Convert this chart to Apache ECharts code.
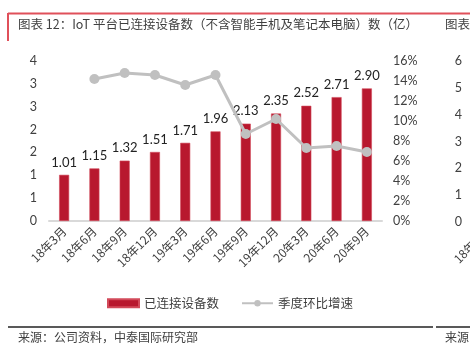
<!DOCTYPE html>
<html lang="zh">
<head>
    <meta charset="UTF-8">
    <title>IoT 平台已连接设备数</title>
    <script type="text/javascript" src="https://cdn.jsdelivr.net/npm/echarts@6/dist/echarts.min.js"></script>
    <style>
        html, body { margin: 0; padding: 0; background: #fff; }
        #chart { width: 470px; height: 354px; }
    </style>
</head>
<body>
<div id="chart"></div>
<script>
    // 数据
    var categories = ['18年3月', '18年6月', '18年9月', '18年12月', '19年3月', '19年6月',
        '19年9月', '19年12月', '20年3月', '20年6月', '20年9月'];
    var devices = [1.01, 1.15, 1.32, 1.51, 1.71, 1.96, 2.13, 2.35, 2.52, 2.71, 2.90];
    var qoqGrowth = [null, 14.2, 14.8, 14.6, 13.6, 14.6, 8.7, 10.2, 7.3, 7.5, 6.9];
    // 右侧被截断的下一张图（只露出坐标轴）
    var nextFirstCategory = '18年3月';

    var font = '"Noto Sans CJK SC", Lato, sans-serif';
    var numFont = 'Lato, "Noto Sans CJK SC", sans-serif';

    var myChart = echarts.init(document.getElementById('chart'));
    var option = {
        backgroundColor: '#fff',
        animation: false,
        textStyle: { fontFamily: font },
        graphic: [
            // 标题框的红线
            { type: 'line', shape: { x1: 8, y1: 13.5, x2: 470, y2: 13.5 }, style: { stroke: '#e0505a', lineWidth: 2 } },
            { type: 'line', shape: { x1: 8, y1: 13, x2: 8, y2: 41 }, style: { stroke: '#e0505a', lineWidth: 2 } },
            { type: 'text', left: 18, top: 18, style: { text: '图表 12：IoT 平台已连接设备数（不含智能手机及笔记本电脑）数（亿）', fill: '#404040', font: '12.5px ' + font } },
            { type: 'text', left: 445, top: 18, style: { text: '图表', fill: '#404040', font: '12.5px ' + font } },
            // 被截断的下一张图的首个分类标签
            { type: 'text', x: 487, y: 230, rotation: Math.PI / 4, style: { text: nextFirstCategory, align: 'right', verticalAlign: 'middle', fill: '#404040', font: '12px ' + font } },
            // 底部分隔线与来源
            { type: 'line', shape: { x1: 8, y1: 327, x2: 433, y2: 327 }, style: { stroke: '#595959', lineWidth: 2 } },
            { type: 'line', shape: { x1: 436, y1: 327, x2: 470, y2: 327 }, style: { stroke: '#595959', lineWidth: 2 } },
            { type: 'text', left: 18, top: 331, style: { text: '来源：公司资料，中泰国际研究部', fill: '#404040', font: '12px ' + font } },
            { type: 'text', left: 445, top: 331, style: { text: '来源', fill: '#404040', font: '12px ' + font } }
        ],
        legend: {
            left: 102,
            top: 292,
            itemGap: 22,
            itemWidth: 31,
            itemHeight: 8,
            textStyle: { color: '#404040', fontSize: 12.5, fontFamily: font },
            data: [
                { name: '已连接设备数', icon: 'rect' },
                { name: '季度环比增速' }
            ]
        },
        grid: [
            { left: 49, right: 88, top: 61, bottom: 133 },
            { left: 466, right: 0, top: 61, bottom: 132 }
        ],
        xAxis: [{
            type: 'category',
            gridIndex: 0,
            data: categories,
            axisLine: { show: true, lineStyle: { color: '#d9d9d9', width: 2 } },
            axisTick: { show: false },
            axisLabel: { rotate: 45, margin: 8, color: '#404040', fontSize: 12, fontFamily: font, interval: 0 }
        }, {
            type: 'category',
            gridIndex: 1,
            data: [nextFirstCategory],
            axisLine: { show: false },
            axisTick: { show: false },
            axisLabel: { show: false }
        }],
        yAxis: [{
            type: 'value',
            gridIndex: 0,
            min: 0,
            max: 3.5,
            interval: 0.5,
            splitLine: { show: false },
            axisLine: { show: false },
            axisTick: { show: false },
            axisLabel: {
                margin: 12, color: '#404040', fontSize: 12.5, fontFamily: numFont,
                formatter: function (v) { return String(Math.round(v)); }
            }
        }, {
            type: 'value',
            gridIndex: 0,
            position: 'right',
            min: 0,
            max: 16,
            interval: 2,
            splitLine: { show: false },
            axisLine: { show: false },
            axisTick: { show: false },
            axisLabel: { margin: 11, color: '#404040', fontSize: 12.5, fontFamily: numFont, formatter: '{value}%' }
        }, {
            type: 'value',
            gridIndex: 1,
            min: 0,
            max: 6,
            interval: 1,
            splitLine: { show: false },
            axisLine: { show: false },
            axisTick: { show: false },
            axisLabel: { margin: 4, color: '#404040', fontSize: 12.5, fontFamily: numFont }
        }],
        series: [{
            name: '已连接设备数',
            type: 'bar',
            xAxisIndex: 0,
            yAxisIndex: 0,
            barWidth: 10,
            itemStyle: { color: '#b8182e', borderColor: '#d24a5a', borderWidth: 0.6 },
            label: {
                show: true,
                position: 'top',
                distance: 6,
                color: '#222',
                fontSize: 13,
                fontFamily: numFont,
                formatter: function (p) { return p.value.toFixed(2); }
            },
            data: devices
        }, {
            name: '季度环比增速',
            type: 'line',
            xAxisIndex: 0,
            yAxisIndex: 1,
            symbol: 'circle',
            symbolSize: 10,
            lineStyle: { color: '#c0c0c0', width: 3 },
            itemStyle: { color: '#c0c0c0' },
            z: 3,
            data: qoqGrowth
        }]
    };
    myChart.setOption(option);
</script>
</body>
</html>
